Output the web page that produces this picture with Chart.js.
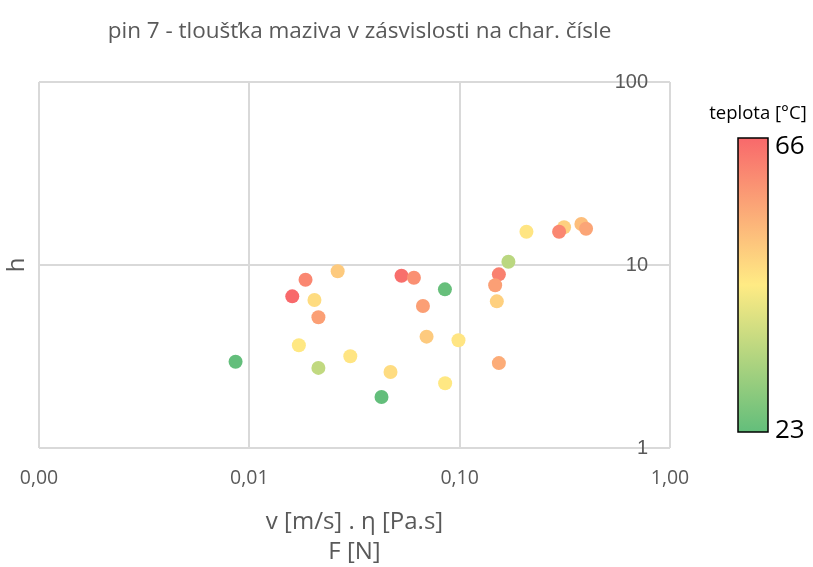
<!DOCTYPE html>
<html>
<head>
<meta charset="utf-8">
<title>pin 7</title>
<script src="https://cdn.jsdelivr.net/npm/chart.js@4.4.0/dist/chart.umd.min.js"></script>
<style>
  html, body { margin: 0; padding: 0; background: #fff; }
  #wrap { width: 813px; height: 567px; }
</style>
</head>
<body>
<div id="wrap"><canvas id="chart" width="813" height="567"></canvas></div>
<script>
// v . eta (x), film thickness h (y), temperature of each measurement
let speedVisc = [0.0086, 0.0185, 0.0263, 0.0160, 0.0204, 0.0213, 0.0172, 0.0213, 0.0302, 0.0529,
  0.0606, 0.0851, 0.0669, 0.0696, 0.0987, 0.0469, 0.0853, 0.0425, 0.1705, 0.1536,
  0.1475, 0.1502, 0.1536, 0.2077, 0.3136, 0.2970, 0.379, 0.399];
let thickness = [2.96, 8.31, 9.24, 6.74, 6.44, 5.18, 3.64, 2.74, 3.17, 8.74,
  8.52, 7.36, 5.97, 4.06, 3.88, 2.60, 2.26, 1.90, 10.42, 8.89,
  7.75, 6.33, 2.91, 15.2, 16.07, 15.2, 16.75, 15.79];
let temperature = [23, 61, 50, 66, 47, 57, 45, 36, 45.5, 65,
  59.5, 23.5, 57, 50, 45.5, 47, 45, 23, 35, 62,
  57, 49, 55, 45.5, 49, 61, 52, 56];

let xTicks = [0.001, 0.01, 0.1, 1];
let xTickLabels = ['0,00', '0,01', '0,10', '1,00'];
let yTicks = [1, 10, 100];
let yTickLabels = ['1', '10', '100'];
let tempRange = [23, 66];

// green -> yellow -> red
let stops = [[99, 190, 123], [255, 235, 132], [248, 105, 107]];

let mix = (a, b, k) => a.map((c, i) => Math.round(c + (b[i] - c) * k));
let rgb = (c) => `rgb(${c[0]},${c[1]},${c[2]})`;

let tempColor = (t) => {
  let f = (t - tempRange[0]) / (tempRange[1] - tempRange[0]);
  f = Math.max(0, Math.min(1, f));
  if (f < 0.5) return rgb(mix(stops[0], stops[1], f / 0.5));
  return rgb(mix(stops[1], stops[2], (f - 0.5) / 0.5));
};

let points = speedVisc.map((x, i) => ({ x: x, y: thickness[i] }));
let colors = temperature.map(tempColor);

let grey = '#595959';
let gridColor = '#d9d9d9';

let colorBar = {
  id: 'colorBar',
  afterDraw(chart) {
    let ctx = chart.ctx;
    let x0 = 738, y0 = 138, w = 30, h = 294;
    ctx.save();
    let grad = ctx.createLinearGradient(0, y0, 0, y0 + h);
    grad.addColorStop(0, rgb(stops[2]));
    grad.addColorStop(0.5, rgb(stops[1]));
    grad.addColorStop(1, rgb(stops[0]));
    ctx.fillStyle = grad;
    ctx.fillRect(x0, y0, w, h);
    ctx.lineWidth = 1.5;
    ctx.strokeStyle = '#000';
    ctx.strokeRect(x0, y0, w, h);

    ctx.fillStyle = '#000';
    ctx.font = '18.5px "Open Sans"';
    ctx.textAlign = 'center';
    ctx.textBaseline = 'middle';
    ctx.fillText('teplota [°C]', 758, 114);

    ctx.font = '26px "Open Sans"';
    ctx.textAlign = 'left';
    ctx.fillText(String(tempRange[1]), 775, y0 + 9);
    ctx.fillText(String(tempRange[0]), 775, y0 + h - 1);
    ctx.restore();
  }
};

let chart = new Chart(document.getElementById('chart'), {
  type: 'scatter',
  data: {
    datasets: [{
      data: points,
      xAxisID: 'x',
      yAxisID: 'y',
      backgroundColor: colors,
      borderWidth: 0,
      pointRadius: 7,
      pointHoverRadius: 7,
    }],
  },
  options: {
    responsive: false,
    animation: false,
    layout: { padding: { left: 0, right: 94, top: 0, bottom: 0 } },
    plugins: {
      legend: { display: false },
      tooltip: { enabled: false },
      title: {
        display: true,
        text: 'pin 7 - tloušťka maziva v zásvislosti na char. čísle',
        color: grey,
        font: { family: 'Open Sans', size: 22.5, weight: 'normal', lineHeight: 1.2 },
        padding: { top: 18.5, bottom: 36.5 },
      },
    },
    scales: {
      x: {
        type: 'logarithmic',
        position: 'bottom',
        min: xTicks[0],
        max: xTicks[xTicks.length - 1],
        afterBuildTicks: (s) => { s.ticks = xTicks.map((v) => ({ value: v })); },
        afterFit: (s) => { s.height = 119; },
        grid: { color: gridColor, lineWidth: 2, drawTicks: false },
        border: { display: false },
        ticks: {
          autoSkip: false,
          maxRotation: 0,
          padding: 19,
          color: grey,
          font: { family: 'Open Sans', size: 19.5 },
          callback: (value, index) => xTickLabels[index],
        },
        title: {
          display: true,
          text: ['v [m/s] . η [Pa.s]', 'F [N]'],
          color: grey,
          font: { family: 'Open Sans', size: 24, lineHeight: 1.25 },
          padding: 0,
        },
      },
      y: {
        type: 'logarithmic',
        position: 'right',
        min: yTicks[0],
        max: yTicks[yTicks.length - 1],
        afterBuildTicks: (s) => { s.ticks = yTicks.map((v) => ({ value: v })); },
        afterFit: (s) => { s.width = 49; },
        grid: { color: gridColor, lineWidth: 2, drawTicks: false },
        border: { display: false },
        ticks: {
          mirror: true,
          padding: -22,
          color: grey,
          font: { family: 'Liberation Sans', size: 20 },
          callback: (value, index) => yTickLabels[index],
        },
      },
      h: {
        axis: 'y',
        type: 'linear',
        position: 'left',
        afterFit: (s) => { s.width = 39; },
        grid: { display: false },
        border: { display: false },
        ticks: { display: false },
        title: {
          display: true,
          text: 'h',
          color: grey,
          font: { family: 'Open Sans', size: 24, lineHeight: 1.2 },
          padding: { top: 3, bottom: 0 },
        },
      },
    },
  },
  plugins: [colorBar],
});
</script>
</body>
</html>
